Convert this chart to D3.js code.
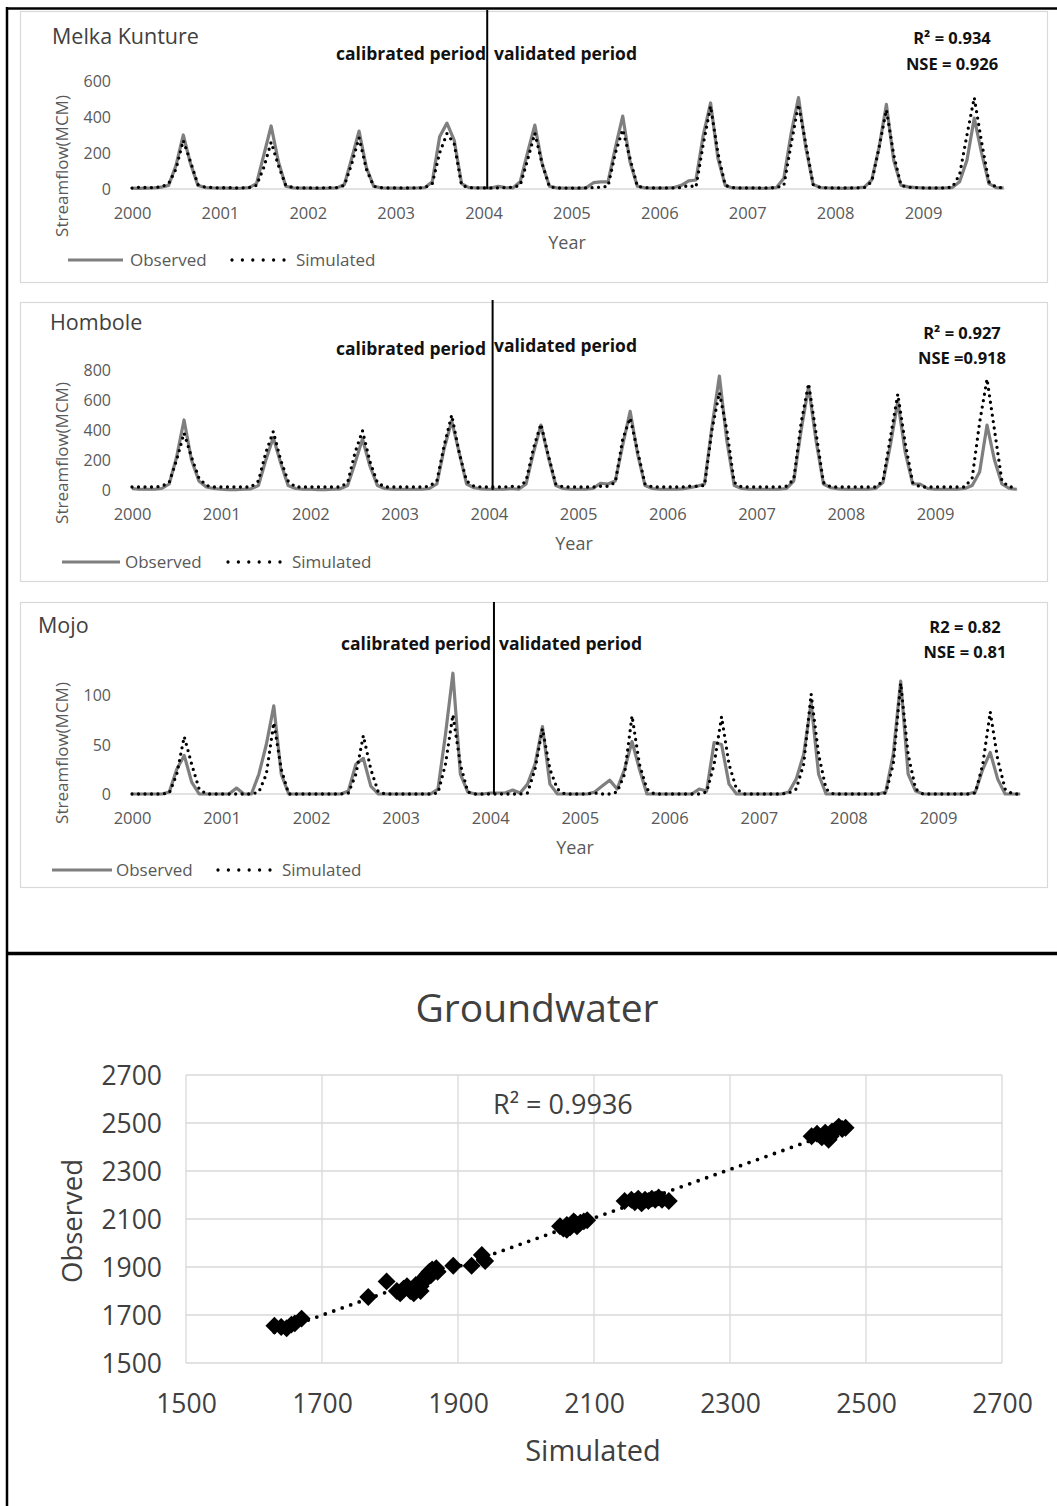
<!DOCTYPE html>
<html><head><meta charset="utf-8">
<script src="https://cdn.jsdelivr.net/npm/d3@7"></script>
<style>
html,body{margin:0;padding:0;background:#fff;}
svg{display:block;}
text{font-family:"Open Sans",sans-serif;}
</style></head>
<body>
<script>
// ---------------- DATA ----------------
const years = [2000,2001,2002,2003,2004,2005,2006,2007,2008,2009];
const calibEndMonth = 48.5; // boundary between calibration and validation (month index from Jan 2000)

const melkaObserved = [
  5,4,5,6,10,20,130,300,140,20,8,6,
  5,5,4,5,8,30,190,350,150,15,6,5,
  5,4,4,5,6,25,170,322,120,15,6,5,
  5,4,5,6,8,40,290,366,270,30,8,6,
  6,5,15,8,6,40,200,355,140,15,6,5,
  5,4,6,35,40,40,230,405,150,15,6,5,
  5,5,8,20,45,50,300,478,170,20,6,5,
  5,5,4,5,8,60,310,508,230,25,8,6,
  5,4,5,6,10,50,230,470,160,20,12,8,
  6,5,5,6,8,40,160,394,200,30,8,6];
const melkaSimulated = [
  5,10,8,8,12,30,110,270,150,25,10,8,
  6,8,6,6,8,20,120,260,130,20,8,6,
  6,6,6,8,8,20,140,285,110,15,8,6,
  6,6,6,6,8,30,200,308,250,20,8,6,
  6,6,6,8,10,20,160,310,140,12,6,5,
  5,6,6,8,10,15,200,330,170,15,8,6,
  6,6,6,8,20,10,250,460,200,20,8,6,
  6,6,6,6,8,20,250,470,250,25,8,6,
  6,6,6,6,8,40,230,440,190,20,10,8,
  6,6,6,6,10,80,300,508,260,40,10,6];

const homboleObserved = [
  10,5,5,5,10,40,220,467,200,60,20,10,
  5,3,3,5,8,30,200,350,180,30,10,5,
  5,3,3,5,8,30,180,340,160,30,10,5,
  5,5,5,5,10,40,280,460,250,40,15,8,
  5,5,5,10,5,40,250,433,220,30,10,5,
  5,5,10,45,40,60,300,525,240,30,10,5,
  5,5,8,15,25,40,420,760,330,30,10,5,
  5,5,5,5,10,60,400,690,330,40,15,8,
  5,5,5,5,10,50,300,590,250,40,40,10,
  5,5,5,5,10,30,120,433,200,40,10,5];
const homboleSimulated = [
  20,20,20,20,25,50,200,380,220,80,30,20,
  20,20,20,20,20,60,250,390,200,60,20,20,
  20,20,20,20,20,50,250,395,190,50,20,20,
  20,20,20,20,25,60,300,500,250,60,25,20,
  20,20,20,25,20,60,280,440,230,40,20,20,
  20,20,20,25,25,50,340,480,260,40,20,20,
  20,20,20,25,25,30,400,650,400,50,20,20,
  20,20,20,20,25,70,450,710,380,50,20,20,
  20,20,20,20,20,60,350,640,310,50,20,20,
  20,20,20,20,20,80,450,740,400,60,20,20];

const mojoObserved = [
  0,0,0,0,0,2,25,39,12,0,0,0,
  0,0,6,0,0,20,50,89,20,0,0,0,
  0,0,0,0,0,3,30,36,8,0,0,0,
  0,0,0,0,0,5,60,122,20,2,0,0,
  1,1,1,4,1,10,30,68,10,0,0,0,
  0,0,2,8,14,5,25,53,25,0,0,0,
  0,0,0,0,5,3,52,50,10,0,0,0,
  0,0,0,0,2,15,40,92,20,0,0,0,
  0,0,0,0,0,2,40,114,20,3,0,0,
  0,0,0,0,0,2,25,42,15,0,0,0];
const mojoSimulated = [
  0,0,0,0,0,1,20,58,30,5,0,0,
  0,0,0,0,0,2,20,72,25,0,0,0,
  0,0,0,0,0,1,20,59,25,2,0,0,
  0,0,0,0,0,1,30,80,30,2,0,0,
  0,0,0,0,0,1,25,66,25,5,0,0,
  0,0,1,0,0,2,20,79,30,5,0,0,
  0,0,0,0,0,2,30,78,30,5,0,0,
  0,0,0,0,1,5,30,101,40,5,0,0,
  0,0,0,0,0,1,30,112,40,5,0,0,
  0,0,0,0,0,1,30,83,35,5,0,0];

const melkaTicks = [0,200,400,600];
const homboleTicks = [0,200,400,600,800];
const mojoTicks = [0,50,100];

const gwSimulated = [1630,1640,1648,1655,1660,1670,1768,1795,
  1810,1815,1820,1825,1830,1835,1838,1840,1845,1845,1848,1850,1852,1855,1858,1860,1862,1865,1868,1870,
  1893,1920,1935,1940,
  2050,2055,2060,2060,2065,2068,2070,2072,2075,2080,2085,2090,
  2145,2155,2160,2165,2170,2175,2180,2185,2190,2195,2200,2210,
  2420,2428,2435,2440,2445,2448,2450,2455,2460,2465,2470];
const gwObserved = [1655,1650,1645,1660,1665,1685,1775,1840,
  1800,1790,1810,1820,1800,1790,1825,1810,1820,1800,1835,1850,1860,1870,1880,1865,1890,1885,1895,1880,
  1905,1905,1950,1925,
  2070,2060,2075,2055,2065,2080,2090,2085,2070,2085,2090,2095,
  2175,2180,2170,2185,2165,2180,2175,2185,2180,2190,2180,2175,
  2445,2455,2440,2460,2430,2445,2465,2470,2485,2475,2480];
const gwTicks = [1500,1700,1900,2100,2300,2500,2700];

// ---------------- DRAW ----------------
const W = 1057, H = 1506;
const svg = d3.select("body").append("svg").attr("width", W).attr("height", H);

// outer frames
svg.append("line").attr("x1",7).attr("x2",1060).attr("y1",8.5).attr("y2",8.5).attr("stroke","#000").attr("stroke-width",2.5);
svg.append("line").attr("x1",7).attr("x2",7).attr("y1",7).attr("y2",1506).attr("stroke","#000").attr("stroke-width",2.5);
svg.append("line").attr("x1",7).attr("x2",1060).attr("y1",953.5).attr("y2",953.5).attr("stroke","#000").attr("stroke-width",3.5);

const panels = [
  {name:"Melka Kunture", obs:melkaObserved, sim:melkaSimulated, ticks:melkaTicks, ymax:600,
   box:[20,11,1047,282], x0:132, x9:923, y0:189, yTop:81, vTop:10,
   title:[52,44], calib:[486,60], valid:[494,60], stats:["R\u00B2 = 0.934","NSE = 0.926"], statX:952, statY:[44,70],
   ylab:[62,166], xlabY:219, yearPos:[567,249], leg:[68,123,130,232,285,296,260]},
  {name:"Hombole", obs:homboleObserved, sim:homboleSimulated, ticks:homboleTicks, ymax:800,
   box:[20,302,1047,581], x0:132, x9:935, y0:490, yTop:370, vTop:300,
   title:[50,330], calib:[486,355], valid:[494,352], stats:["R\u00B2 = 0.927","NSE =0.918"], statX:962, statY:[339,364],
   ylab:[62,453], xlabY:520, yearPos:[574,550], leg:[62,120,125,228,282,292,562]},
  {name:"Mojo", obs:mojoObserved, sim:mojoSimulated, ticks:mojoTicks, ymax:100,
   box:[20,602,1047,887], x0:132, x9:938, y0:794, yTop:695, vTop:602,
   title:[38,633], calib:[491,650], valid:[499,650], stats:["R2 = 0.82","NSE = 0.81"], statX:965, statY:[633,658],
   ylab:[62,753], xlabY:824, yearPos:[575,854], leg:[52,112,116,218,272,282,870]}
];

panels.forEach(p => {
  const g = svg.append("g");
  g.append("rect").attr("x",p.box[0]+0.5).attr("y",p.box[1]+0.5)
    .attr("width",p.box[2]-p.box[0]).attr("height",p.box[3]-p.box[1])
    .attr("fill","none").attr("stroke","#d9d9d9").attr("stroke-width",1.2);

  const x = d3.scaleLinear().domain([0,108]).range([p.x0,p.x9]);
  const y = d3.scaleLinear().domain([0,p.ymax]).range([p.y0,p.yTop]);
  const n = p.obs.length;

  // baseline axis
  g.append("line").attr("x1",x(0)).attr("x2",x(n-1)+1).attr("y1",y(0)).attr("y2",y(0))
    .attr("stroke","#d9d9d9").attr("stroke-width",1.5);

  // y ticks
  const ya = d3.axisLeft(y).tickValues(p.ticks).tickSize(0).tickPadding(0);
  const yg = g.append("g").attr("transform",`translate(${111},0)`).call(ya);
  yg.select(".domain").remove();
  yg.selectAll("text").attr("font-family","'Open Sans',sans-serif").attr("font-size",16).attr("fill","#595959").attr("dy","0.35em");

  // x ticks
  const xa = d3.axisBottom(x).tickValues(years.map(v=>(v-2000)*12)).tickFormat(v=>years[v/12]).tickSize(0).tickPadding(0);
  const xg = g.append("g").attr("transform",`translate(0,${p.xlabY})`).call(xa);
  xg.select(".domain").remove();
  xg.selectAll("text").attr("font-family","'Open Sans',sans-serif").attr("font-size",16.5).attr("fill","#595959").attr("dy","0");

  const line = d3.line().x((d,i)=>x(i)).y(d=>y(d));
  g.append("path").datum(p.obs).attr("d",line).attr("fill","none")
    .attr("stroke","#7f7f7f").attr("stroke-width",3.2).attr("stroke-linejoin","round");
  g.append("path").datum(p.sim).attr("d",line).attr("fill","none")
    .attr("stroke","#000").attr("stroke-width",3.3).attr("stroke-linecap","round").attr("stroke-dasharray","0,6.5");

  // vertical split line
  g.append("line").attr("x1",x(calibEndMonth)).attr("x2",x(calibEndMonth)).attr("y1",p.vTop).attr("y2",y(0))
    .attr("stroke","#000").attr("stroke-width",2);

  g.append("text").attr("x",p.title[0]).attr("y",p.title[1]).text(p.name)
    .attr("font-size",21.5).attr("fill","#404040");
  g.append("text").attr("x",p.calib[0]).attr("y",p.calib[1]).attr("text-anchor","end").text("calibrated period")
    .attr("font-family","Lato,sans-serif").attr("font-weight","bold").attr("font-size",17.5).attr("fill","#111");
  g.append("text").attr("x",p.valid[0]).attr("y",p.valid[1]).text("validated period")
    .attr("font-family","Lato,sans-serif").attr("font-weight","bold").attr("font-size",17.5).attr("fill","#111");
  p.stats.forEach((s,i)=>{
    g.append("text").attr("x",p.statX).attr("y",p.statY[i]).attr("text-anchor","middle").text(s)
      .attr("font-family","Lato,sans-serif").attr("font-weight","bold").attr("font-size",16.5).attr("fill","#111");
  });
  g.append("text").attr("transform",`translate(${p.ylab[0]+6},${p.ylab[1]}) rotate(-90)`).attr("text-anchor","middle")
    .text("Streamflow(MCM)").attr("font-size",17).attr("fill","#595959");
  g.append("text").attr("x",p.yearPos[0]).attr("y",p.yearPos[1]).attr("text-anchor","middle").text("Year")
    .attr("font-size",18).attr("fill","#595959");
  // legend
  const L = p.leg;
  g.append("line").attr("x1",L[0]).attr("x2",L[1]).attr("y1",L[6]).attr("y2",L[6]).attr("stroke","#7f7f7f").attr("stroke-width",3.2);
  g.append("text").attr("x",L[2]).attr("y",L[6]+6).text("Observed").attr("font-size",17).attr("fill","#595959");
  g.append("line").attr("x1",L[3]).attr("x2",L[4]).attr("y1",L[6]).attr("y2",L[6]).attr("stroke","#000")
    .attr("stroke-width",3.3).attr("stroke-linecap","round").attr("stroke-dasharray","0,10.4");
  g.append("text").attr("x",L[5]).attr("y",L[6]+6).text("Simulated").attr("font-size",17).attr("fill","#595959");
});

// ---------------- Groundwater scatter ----------------
const sg = svg.append("g");
const sx = d3.scaleLinear().domain([1500,2700]).range([186,1002]);
const sy = d3.scaleLinear().domain([1500,2700]).range([1363,1075]);

gwTicks.forEach(t=>{
  sg.append("line").attr("x1",sx(t)).attr("x2",sx(t)).attr("y1",sy(1500)).attr("y2",sy(2700)).attr("stroke","#d9d9d9").attr("stroke-width",1.3);
  sg.append("line").attr("y1",sy(t)).attr("y2",sy(t)).attr("x1",sx(1500)).attr("x2",sx(2700)).attr("stroke","#d9d9d9").attr("stroke-width",1.3);
});
const sya = d3.axisLeft(sy).tickValues(gwTicks).tickSize(0).tickPadding(0).tickFormat(d3.format("d"));
const syg = sg.append("g").attr("transform","translate(162,0)").call(sya);
syg.select(".domain").remove();
syg.selectAll("text").attr("font-family","'Open Sans',sans-serif").attr("font-size",26.5).attr("fill","#404040").attr("dy","0.35em");
const sxa = d3.axisBottom(sx).tickValues(gwTicks).tickSize(0).tickPadding(0).tickFormat(d3.format("d"));
const sxg = sg.append("g").attr("transform","translate(0,1413)").call(sxa);
sxg.select(".domain").remove();
sxg.selectAll("text").attr("font-family","'Open Sans',sans-serif").attr("font-size",26.5).attr("fill","#404040").attr("dy","0");

// linear trendline from the data
const pts = gwSimulated.map((v,i)=>[v,gwObserved[i]]);
const mx = d3.mean(pts,d=>d[0]), my = d3.mean(pts,d=>d[1]);
const slope = d3.sum(pts,d=>(d[0]-mx)*(d[1]-my))/d3.sum(pts,d=>(d[0]-mx)*(d[0]-mx));
const icpt = my - slope*mx;
const xmin = d3.min(gwSimulated), xmax = d3.max(gwSimulated);
sg.append("line").attr("x1",sx(xmin)).attr("y1",sy(icpt+slope*xmin)).attr("x2",sx(xmax)).attr("y2",sy(icpt+slope*xmax))
  .attr("stroke","#000").attr("stroke-width",3.8).attr("stroke-linecap","round").attr("stroke-dasharray","0,9");

const sym = d3.symbol().type(d3.symbolSquare).size(160);
sg.selectAll("path.pt").data(pts).enter().append("path").attr("class","pt")
  .attr("d",sym).attr("transform",d=>`translate(${sx(d[0])},${sy(d[1])}) rotate(45)`).attr("fill","#000");

sg.append("text").attr("x",537).attr("y",1022).attr("text-anchor","middle").text("Groundwater")
  .attr("font-size",39).attr("fill","#404040");
sg.append("text").attr("x",493).attr("y",1114).text("R\u00B2 = 0.9936").attr("font-size",27).attr("fill","#404040");
sg.append("text").attr("transform","translate(82,1221) rotate(-90)").attr("text-anchor","middle").text("Observed")
  .attr("font-size",27.5).attr("fill","#404040");
sg.append("text").attr("x",593).attr("y",1461).attr("text-anchor","middle").text("Simulated")
  .attr("font-size",29).attr("fill","#404040");
</script>
</body></html>
